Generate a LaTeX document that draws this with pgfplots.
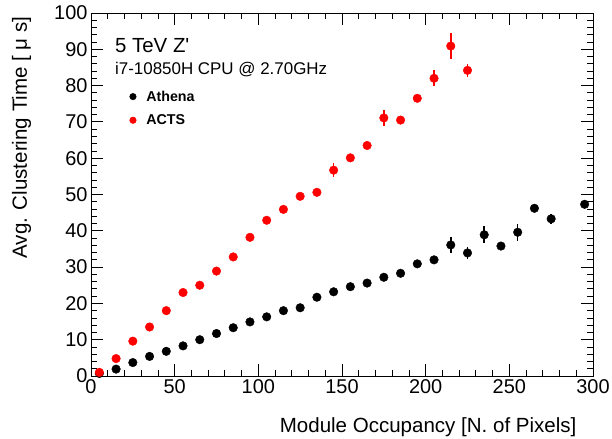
\documentclass[border=0pt]{standalone}
\usepackage{fontspec}
\setmainfont{Liberation Sans}
\usepackage{pgfplots}
\pgfplotsset{compat=1.18}
\usepackage{pgfplotstable}

% x, mean time, error
\pgfplotstableread{
x y e
5 0.7 0.2
15 1.9 0.2
25 3.7 0.3
35 5.4 0.3
45 6.8 0.3
55 8.3 0.3
65 10.0 0.3
75 11.7 0.3
85 13.3 0.4
95 14.9 0.4
105 16.3 0.4
115 18.0 0.5
125 18.8 0.5
135 21.7 0.6
145 23.2 0.6
155 24.6 0.6
165 25.6 0.7
175 27.2 0.7
185 28.3 0.8
195 30.9 0.9
205 32.0 0.9
215 36.1 2.3
225 33.9 1.7
235 38.9 2.3
245 35.8 1.2
255 39.6 2.3
265 46.2 0.8
275 43.3 1.3
295 47.3 0.9
}\athena

\pgfplotstableread{
x y e
5 1.0 0.2
15 4.8 0.3
25 9.6 0.4
35 13.5 0.4
45 18.0 0.5
55 23.0 0.5
65 25.0 0.5
75 28.9 0.6
85 32.8 0.6
95 38.2 0.7
105 42.9 0.8
115 45.9 0.8
125 49.5 0.8
135 50.6 0.9
145 56.7 2.0
155 60.1 0.9
165 63.5 0.9
175 71.1 2.2
185 70.5 1.0
195 76.5 1.0
205 82.0 2.2
215 90.9 3.5
225 84.2 1.8
}\acts

\begin{document}
\begin{tikzpicture}
\begin{axis}[
    at={(0,0)}, anchor=south west,
    scale only axis,
    width=502bp, height=363bp,
    xmin=0, xmax=300, ymin=0, ymax=100,
    xtick={0,50,...,300}, ytick={0,10,...,100},
    minor x tick num=4, minor y tick num=4,
    tick align=inside,
    major tick length=12bp, minor tick length=6bp,
    axis line style={line width=0.8bp},
    every tick/.style={black, line width=0.8bp},
    /pgf/number format/assume math mode=true,
    tick label style={font=\fontsize{20}{22}\selectfont},
    label style={font=\fontsize{20.6}{24}\selectfont},
    xlabel={Module Occupancy [N. of Pixels]},
    ylabel={Avg. Clustering Time [ μ s]},
    xlabel style={at={(axis description cs:0.974,-0.157)}, anchor=base east},
    ylabel style={at={(axis description cs:-0.1275,1)}, anchor=base east},
    legend style={at={(axis cs:23,79.2)}, anchor=north west, draw=none, fill=none,
        inner sep=0pt, row sep=8bp,
        font=\bfseries\fontsize{14.3}{16}\selectfont,
        /tikz/every odd column/.append style={column sep=8bp}},
    legend cell align=left,
    legend image code/.code={\draw[#1, mark size=3.3bp] plot coordinates {(0bp,0bp)};},
    every axis plot/.append style={only marks, mark=*, mark size=4.3bp},
    error bars/y dir=both, error bars/y explicit,
    error bars/error mark=none,
]
\addplot[black, error bars/error bar style={line width=1.5bp, black}]
    table[x=x, y=y, y error=e] {\athena};
\addlegendentry{Athena}
\addplot[red, error bars/error bar style={line width=1.5bp, red}]
    table[x=x, y=y, y error=e] {\acts};
\addlegendentry{ACTS}

\node[anchor=base west, font=\fontsize{20.5}{23}\selectfont, inner sep=0pt]
    at (axis cs:14.3,89.2) {5 TeV Z\textquotesingle};
\node[anchor=base west, font=\fontsize{17}{19}\selectfont, inner sep=0pt]
    at (axis cs:14.3,83.1) {i7-10850H CPU @ 2.70GHz};
\end{axis}
\pgfresetboundingbox
\path[use as bounding box] (-91bp,-63bp) rectangle (521bp,376bp);
\end{tikzpicture}
\end{document}
